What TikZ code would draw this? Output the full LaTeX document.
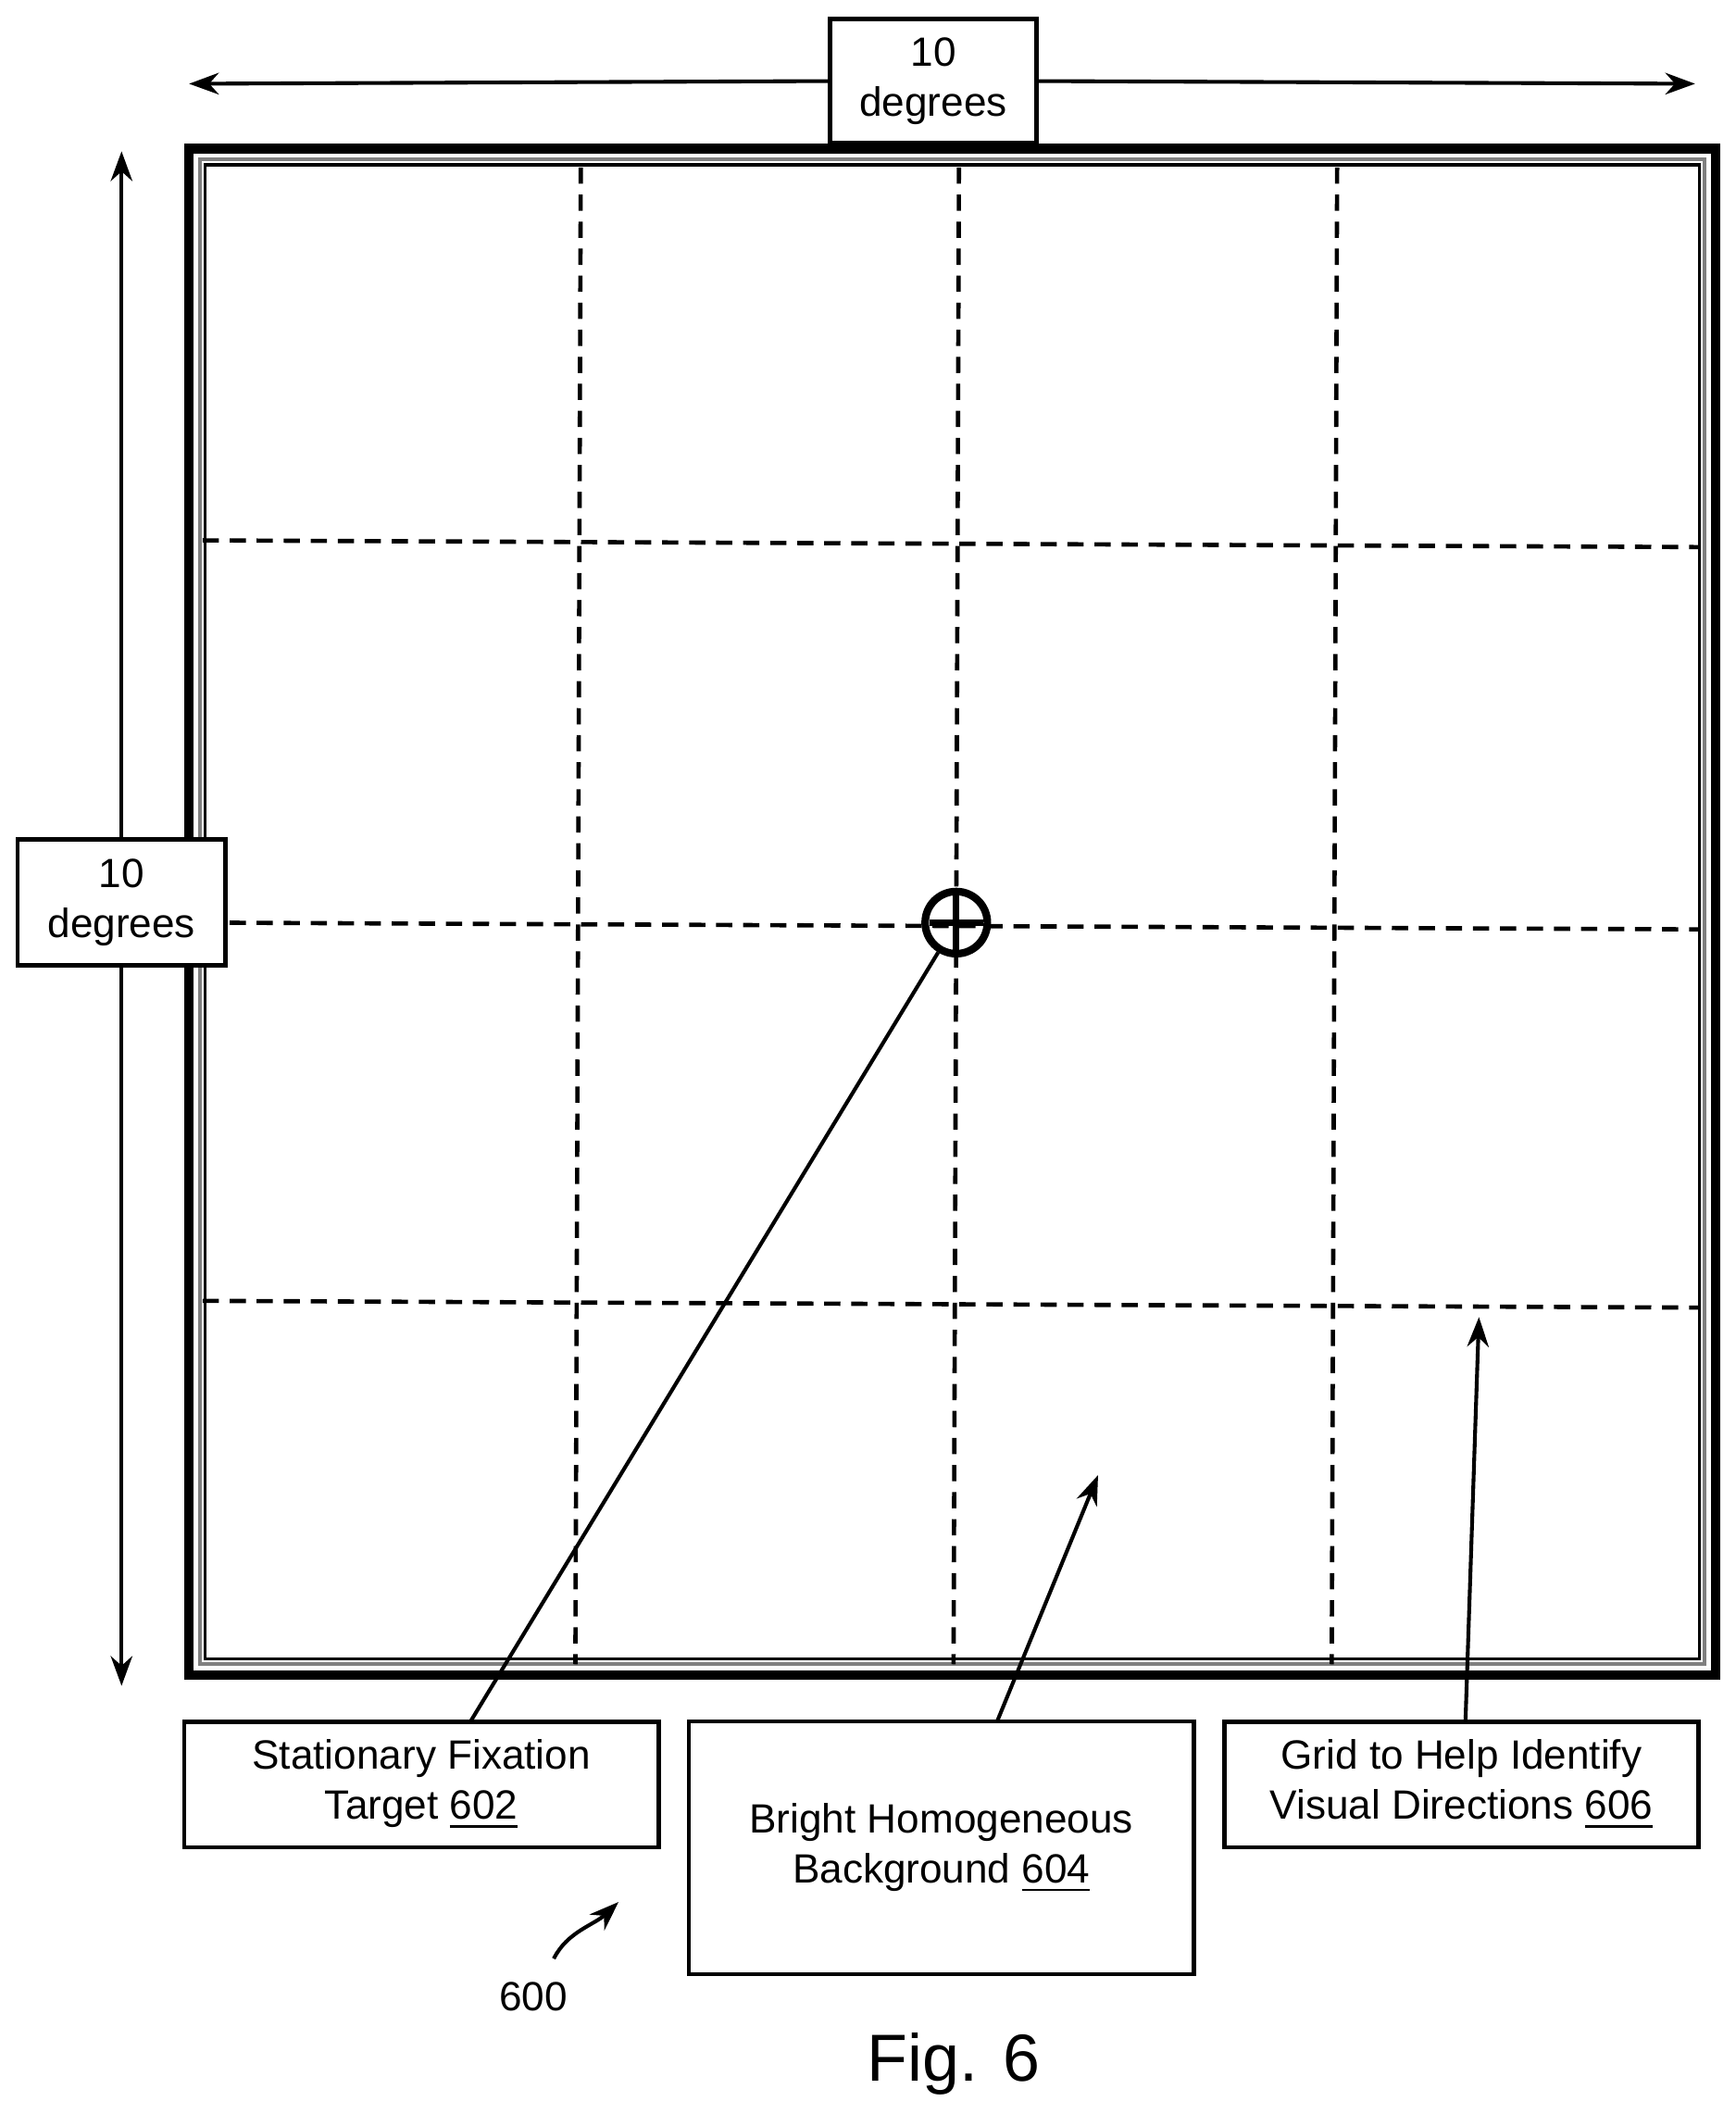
\documentclass[tikz,border=0pt]{standalone}
\usepackage{fontspec}
\setmainfont{Liberation Sans}
\usetikzlibrary{arrows.meta}
\begin{document}
\begin{tikzpicture}[x=0.01cm,y=-0.01cm,
  lbl/.style={draw,line width=0.9pt,inner sep=0pt,align=center,font=\fontsize{8.6}{10.6}\selectfont},
  grid/.style={line width=0.9pt,dash pattern=on 0.12cm off 0.08cm},
  arr/.style={line width=0.8pt,-{Stealth[length=0.22cm,width=0.16cm]}}]
\useasboundingbox (0,0) rectangle (1285,1565);
% frame
\draw[line width=2pt] (140,110) rectangle (1270,1240);
\draw[line width=0.8pt,gray] (148,118) rectangle (1262,1232);
\draw[line width=0.6pt] (152,122) rectangle (1258,1228);
% grid
\foreach \x in {430,710,990} \draw[grid] (\x,124) -- (\x-4,1232);
\draw[grid] (150,400) -- (1258,405);
\draw[grid] (150,683) -- (1258,688);
\draw[grid] (150,963) -- (1258,968);
% fixation target
\node[draw,circle,line width=1.6pt,minimum size=0.46cm,inner sep=0pt] (t) at (708,683) {};
\draw[line width=1.4pt] (708,663) -- (708,703) (688,683) -- (728,683);
% dimension arrows
\node[lbl,minimum width=1.53cm,minimum height=0.92cm] (top) at (691,60) {10\\degrees};
\draw[arr] (top.west) -- (140,62);
\draw[arr] (top.east) -- (1255,62);
\node[lbl,fill=white,minimum width=1.54cm,minimum height=0.93cm] (left) at (90,668) {10\\degrees};
\draw[arr] (left.north) -- (90,112);
\draw[arr] (left.south) -- (90,1248);
% labels
\node[lbl,minimum width=3.51cm,minimum height=0.93cm] (a) at (312,1321) {Stationary Fixation\\Target \underline{602}};
\node[lbl,minimum width=3.74cm,minimum height=1.87cm] (b) at (697,1368) {Bright Homogeneous\\Background \underline{604}};
\node[lbl,minimum width=3.51cm,minimum height=0.93cm] (c) at (1082,1321) {Grid to Help Identify\\Visual Directions \underline{606}};
\coordinate (bt) at (813,1092);
\coordinate (ct) at (1095,975);
\draw[line width=0.8pt] (348,1275) -- (t);
\draw[arr] (738,1275) -- (bt);
\draw[arr] (1085,1275) -- (ct);
% 600
\node[font=\fontsize{8.6}{10.6}\selectfont] (n) at (395,1478) {600};
\coordinate (nt) at (458,1408);
\draw[arr] (410,1450) .. controls (420,1430) and (440,1425) .. (nt);
\node[font=\fontsize{14}{16}\selectfont] (fig) at (706,1528) {Fig. 6};
\end{tikzpicture}
\end{document}
